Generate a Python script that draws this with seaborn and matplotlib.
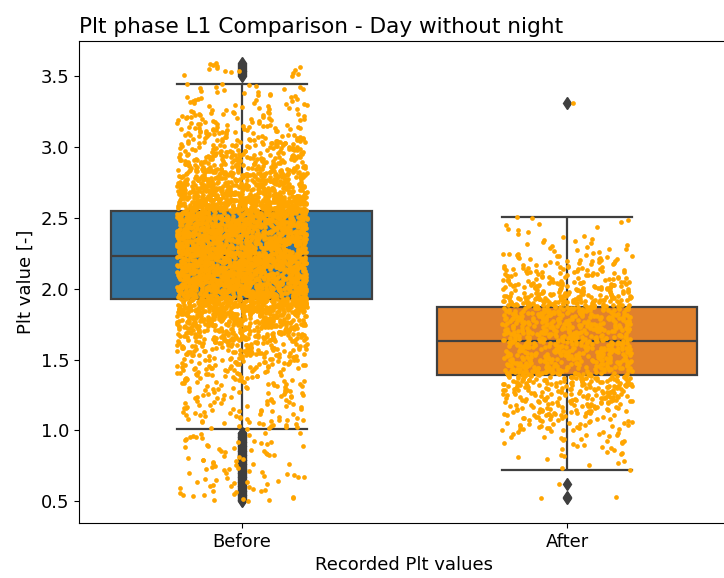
import matplotlib
matplotlib.use("Agg")
import matplotlib.pyplot as plt
import numpy as np
import pandas as pd
import seaborn as sns

# value bins (read from the strip density) and number of points in each bin
before_edges = [0.50, 0.99, 1.013, 1.13, 1.23, 1.33, 1.43, 1.53, 1.63, 1.73, 1.83,
                1.928, 2.233, 2.552, 2.65, 2.75, 2.85, 2.95, 3.05, 3.15, 3.25,
                3.35, 3.452, 3.50, 3.60]
before_counts = [85, 0, 35, 30, 35, 45, 60, 90, 130, 190, 300,
                 1000, 1000, 280, 210, 160, 115, 80, 55, 40, 25,
                 20, 0, 15]

after_edges = [0.721, 0.80, 0.90, 1.00, 1.10, 1.20, 1.30, 1.386, 1.631, 1.871,
               1.95, 2.05, 2.15, 2.25, 2.35, 2.52]
after_counts = [5, 12, 22, 40, 60, 80, 90, 320, 320, 110, 85, 55, 35, 15, 14]
after_single = [0.52, 0.53, 0.62, 3.31]

groups = ["Before", "After"]


def expand(edges, counts):
    vals = []
    for lo, hi, n in zip(edges[:-1], edges[1:], counts):
        vals.extend(np.linspace(lo, hi, n, endpoint=False))
    return vals


before_vals = expand(before_edges, before_counts)
after_vals = expand(after_edges, after_counts) + after_single

df = pd.DataFrame({
    "phase": ["Before"] * len(before_vals) + ["After"] * len(after_vals),
    "value": before_vals + after_vals,
})

plt.rcParams["font.size"] = 13
np.random.seed(3)

fig = plt.figure(figsize=(7.24, 5.78), dpi=100)
ax = fig.add_axes([0.109, 0.095, 0.899, 0.834])

line_c = "#3f3f3f"
sns.boxplot(data=df, x="phase", y="value", hue="phase", order=groups,
            palette=["#1f77b4", "#ff7f0e"], saturation=0.75, width=0.8,
            linecolor=line_c, linewidth=1.6, fliersize=6,
            flierprops=dict(marker="d", markerfacecolor=line_c, markeredgecolor=line_c),
            legend=False, ax=ax)
sns.stripplot(data=df, x="phase", y="value", order=groups, color="orange",
              size=3.4, jitter=0.2, linewidth=0, ax=ax)

ax.set_title("Plt phase L1 Comparison - Day without night", loc="left")
ax.set_xlabel("Recorded Plt values")
ax.set_ylabel("Plt value [-]")

fig.savefig("out.png", dpi=100)
